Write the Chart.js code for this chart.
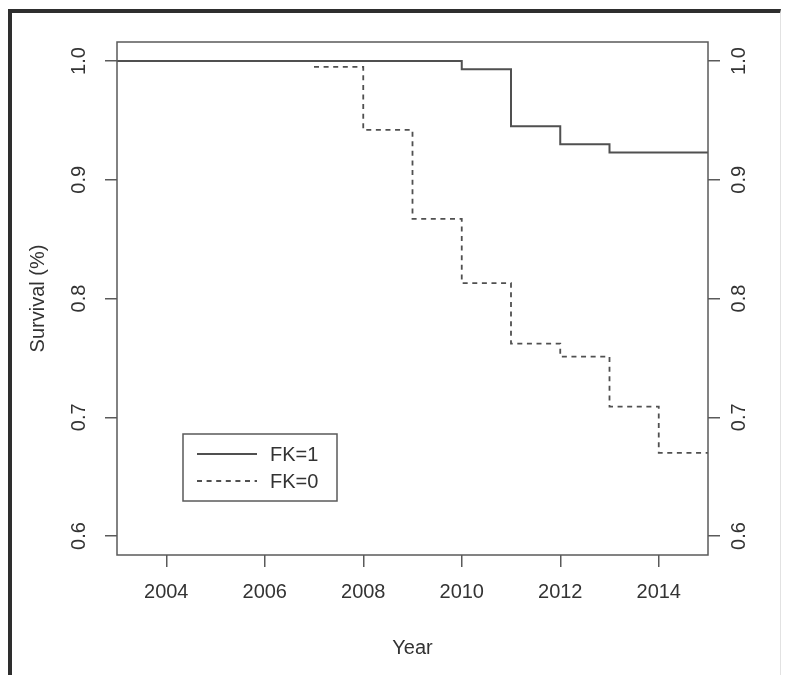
<!DOCTYPE html>
<html>
<head>
<meta charset="utf-8">
<script src="https://cdn.jsdelivr.net/npm/chart.js@4.4.1/dist/chart.umd.min.js"></script>
<style>
  html, body { margin: 0; padding: 0; background: #fff; }
  #wrap { position: relative; width: 785px; height: 675px; overflow: hidden; }
  #c { position: absolute; left: 0; top: 0; }
  #frame {
    position: absolute; left: 8px; top: 9px; right: 4px; bottom: -10px;
    border-left: 4px solid #2e2e2e; border-top: 4px solid #2e2e2e;
    border-right: 1px solid #e2e2e2; pointer-events: none;
  }
</style>
</head>
<body>
<div id="wrap">
  <canvas id="c" width="785" height="675"></canvas>
  <div id="frame"></div>
</div>
<script>
// Kaplan-Meier style survival curves by group
const years1 = [2003, 2010, 2011, 2012, 2013, 2015];
const surv1  = [1.0, 0.993, 0.945, 0.930, 0.923, 0.923];
const years0 = [2007, 2008, 2009, 2010, 2011, 2012, 2013, 2014, 2015];
const surv0  = [0.995, 0.942, 0.867, 0.813, 0.762, 0.751, 0.709, 0.670, 0.670];
const groupLabels = ['FK=1', 'FK=0'];
const yearTicks = [2004, 2006, 2008, 2010, 2012, 2014];
const survTicks = [0.6, 0.7, 0.8, 0.9, 1.0];
const xTitle = 'Year';
const yTitle = 'Survival (%)';

const FONT = "'Liberation Sans', Arial, Helvetica, sans-serif";
const INK = '#333333';
const AXIS = '#5a5a5a';

Chart.defaults.font.family = FONT;
Chart.defaults.font.size = 20;
Chart.defaults.color = INK;

const toPts = (xs, ys) => xs.map((x, i) => ({ x: x, y: ys[i] }));
const tickList = values => scale => { scale.ticks = values.map(v => ({ value: v })); };

const tickGrid = { drawOnChartArea: false, drawTicks: true, tickLength: 12, color: AXIS, lineWidth: 1.5 };

function survAxis(position, pad, width, withTitle) {
  return {
    type: 'linear', position: position, min: 0.584, max: 1.016,
    afterBuildTicks: tickList(survTicks),
    afterFit: s => { s.width = width; },
    grid: tickGrid,
    border: { display: false },
    ticks: {
      minRotation: 90, maxRotation: 90, crossAlign: 'center', padding: pad,
      color: INK, callback: v => Number(v).toFixed(1)
    },
    title: withTitle
      ? { display: true, text: yTitle, color: INK, font: { size: 20 }, padding: { top: 26, bottom: 0 } }
      : { display: false }
  };
}

// plot box and the key
const frameAndKey = {
  id: 'frameAndKey',
  afterDraw(chart) {
    const { ctx, chartArea: a } = chart;
    ctx.save();
    ctx.strokeStyle = AXIS;
    ctx.lineWidth = 1.5;
    ctx.setLineDash([]);
    ctx.strokeRect(a.left, a.top, a.right - a.left, a.bottom - a.top);

    const kx = a.left + 66, ky = a.top + 392, kw = 154, kh = 67;
    ctx.strokeRect(kx, ky, kw, kh);
    chart.data.datasets.forEach((ds, i) => {
      const y = ky + 20 + i * 27;
      ctx.beginPath();
      ctx.setLineDash(ds.borderDash || []);
      ctx.lineWidth = ds.borderWidth;
      ctx.strokeStyle = ds.borderColor;
      ctx.moveTo(kx + 14, y);
      ctx.lineTo(kx + 74, y);
      ctx.stroke();
      ctx.setLineDash([]);
      ctx.fillStyle = INK;
      ctx.font = '20px ' + FONT;
      ctx.textBaseline = 'middle';
      ctx.textAlign = 'left';
      ctx.fillText(ds.label, kx + 87, y + 1);
    });
    ctx.restore();
  }
};

new Chart(document.getElementById('c'), {
  type: 'line',
  data: {
    datasets: [
      {
        label: groupLabels[0], data: toPts(years1, surv1), stepped: 'before',
        borderColor: '#505050', borderWidth: 2, pointRadius: 0, fill: false,
        xAxisID: 'x', yAxisID: 'y'
      },
      {
        label: groupLabels[1], data: toPts(years0, surv0), stepped: 'before',
        borderColor: '#505050', borderWidth: 1.8, borderDash: [5, 4.6], pointRadius: 0, fill: false,
        xAxisID: 'x', yAxisID: 'y'
      }
    ]
  },
  options: {
    responsive: false,
    animation: false,
    events: [],
    layout: { padding: { top: 42, left: 0, right: 0, bottom: 0 } },
    plugins: { legend: { display: false }, tooltip: { enabled: false } },
    scales: {
      x: {
        type: 'linear', position: 'bottom', min: 2003, max: 2015,
        afterBuildTicks: tickList(yearTicks),
        afterFit: s => { s.height = 120; },
        grid: tickGrid,
        border: { display: false },
        ticks: { padding: 13, minRotation: 0, maxRotation: 0, color: INK, callback: v => String(v) },
        title: { display: true, text: xTitle, color: INK, font: { size: 20 }, padding: { top: 0, bottom: 15 } }
      },
      y: survAxis('left', 12, 117, true),
      y2: survAxis('right', 6, 77, false)
    }
  },
  plugins: [frameAndKey]
});
</script>
</body>
</html>
